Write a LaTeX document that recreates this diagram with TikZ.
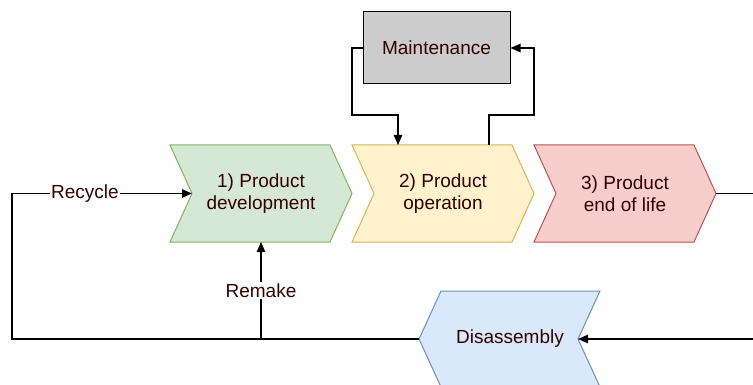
\documentclass[tikz,border=0pt]{standalone}
\usepackage{fontspec}
\setmainfont{Liberation Sans}
\usetikzlibrary{arrows.meta}
\definecolor{txt}{RGB}{51,0,0}
\definecolor{gfill}{HTML}{D5E8D4}\definecolor{gline}{HTML}{82B366}
\definecolor{yfill}{HTML}{FFF2CC}\definecolor{yline}{HTML}{D6B656}
\definecolor{rfill}{HTML}{F8CECC}\definecolor{rline}{HTML}{B85450}
\definecolor{bfill}{HTML}{DAE8FC}\definecolor{bline}{HTML}{6C8EBF}
\definecolor{mfill}{HTML}{CCCCCC}
\tikzset{
  lbltext/.style={text=txt, font=\fontsize{19}{22}\selectfont, align=center},
  flow/.style={line width=1.1pt, draw=black, -{Triangle[length=10pt,width=8.5pt]}},
  plain/.style={line width=1.1pt, draw=black},
  tag/.style={lbltext, fill=white, inner sep=1.5pt},
  chev/.style={line width=1pt},
}
\begin{document}
\begin{tikzpicture}[x=1pt,y=-1pt]
\useasboundingbox (0,0) rectangle (753,385);
\clip (0,0) rectangle (753,385);

% stage chevrons (point to the right)
\draw[chev, fill=gfill, draw=gline] (170,145) -- (330,145) -- (352,193.5) -- (330,242) -- (170,242) -- (192,193.5) -- cycle;
\draw[chev, fill=yfill, draw=yline] (352,145) -- (512,145) -- (534,193.5) -- (512,242) -- (352,242) -- (374,193.5) -- cycle;
\draw[chev, fill=rfill, draw=rline] (534,145) -- (694,145) -- (716,193.5) -- (694,242) -- (534,242) -- (556,193.5) -- cycle;
% disassembly chevron (points to the left)
\draw[chev, fill=bfill, draw=bline] (441,291) -- (600,291) -- (578,339) -- (600,387) -- (441,387) -- (419,339) -- cycle;

\node[lbltext] (dev) at (261,193.5) {1) Product\\development};
\node[lbltext] (op)  at (443,193.5) {2) Product\\operation};
\node[lbltext] (eol) at (625,193.5) {3) Product\\end of life};
\node[lbltext] (dis) at (510,339) {Disassembly};

% anchor points on the chevron outlines
\coordinate (devnotch) at (192,193.5);
\coordinate (devbottom) at (261,242);
\coordinate (opin) at (398,145);
\coordinate (opout) at (489,145);
\coordinate (eoltip) at (716,193.5);
\coordinate (disnotch) at (578,339);
\coordinate (disleft) at (419,339);
\coordinate (remakefork) at (261,339);

% maintenance box
\node[draw=black, line width=1pt, fill=mfill, minimum width=147pt, minimum height=72pt, inner sep=0pt, lbltext] (mnt) at (436.5,48) {Maintenance};

% maintenance loop
\draw[flow] (mnt.west) -| (352,115) -| (opin);
\draw[flow] (opout) |- (534,115) |- (mnt.east);

% end of life to disassembly
\draw[flow] (eoltip) -- (775,193.5) |- (disnotch);

% recycle and remake paths
\draw[flow] (disleft) -- (12,339) -- (12,193.5) -- node[tag, pos=0.405] (recycle) {Recycle} (devnotch);
\draw[flow] (remakefork) -- node[tag, pos=0.5] (remake) {Remake} (devbottom);
\end{tikzpicture}
\end{document}
